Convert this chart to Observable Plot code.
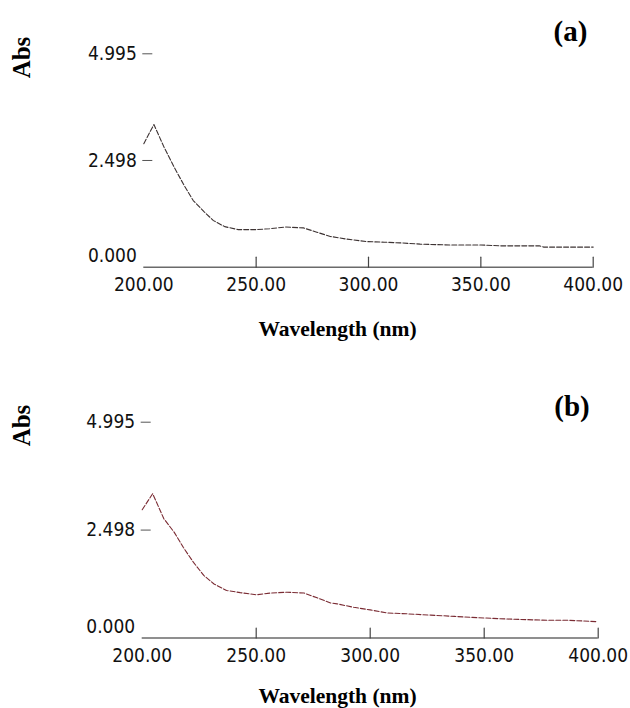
<!DOCTYPE html>
<html><head><meta charset="utf-8">
<script src="https://cdn.jsdelivr.net/npm/d3@7"></script>
<script src="https://cdn.jsdelivr.net/npm/@observablehq/plot@0.6"></script>
<style>body{margin:0;background:#fff} #chart{width:630px;height:708px;position:relative;overflow:hidden} svg{display:block}</style>
</head><body><div id="chart"></div>
<script>
// Panel (a)
const wavelengthA = [200, 204.5, 209, 213.5, 218, 222, 227, 231, 236, 242, 250, 256, 263, 271, 277, 283, 290, 299, 307, 314, 323, 336, 350, 359, 376, 378, 400];
const absA        = [2.89, 3.34, 2.81, 2.34, 1.91, 1.56, 1.29, 1.09, 0.95, 0.88, 0.88, 0.90, 0.94, 0.92, 0.82, 0.72, 0.66, 0.60, 0.585, 0.57, 0.54, 0.52, 0.52, 0.50, 0.50, 0.47, 0.47];
// Panel (b)
const wavelengthB = [200, 204.6, 209.5, 214, 218, 222.5, 227, 231.5, 237, 243, 250, 256, 263.5, 271, 276.7, 282.6, 285.5, 292.8, 300, 307.5, 316, 326.5, 337, 347, 360, 377.5, 387, 399];
const absB        = [2.97, 3.34, 2.76, 2.45, 2.10, 1.75, 1.45, 1.25, 1.10, 1.05, 1.00, 1.04, 1.06, 1.04, 0.93, 0.81, 0.79, 0.71, 0.65, 0.58, 0.56, 0.53, 0.50, 0.47, 0.44, 0.41, 0.41, 0.38];

const xTicks = [200, 250, 300, 350, 400];
const xTickMarks = [250, 300, 350, 400];
const yTicks = [2.498, 4.995];
const yZeroTick = [0];
const xLabel = "Wavelength (nm)";
const yLabel = "Abs";
const panelLabels = ["(a)", "(b)"];
const lineColors = ["#3d3333", "#7a2b33"];

const tickShape = {draw(c, l) { c.moveTo(0, 0); c.lineTo(0, -l); }};
const serif = "'Liberation Serif', 'Times New Roman', serif";

function panel({wl, ab, color, label, ml, mr, mt, mb, absPos, tagPos, xlabPos}) {
  const data = wl.map((w, i) => ({w, a: ab[i]}));
  return Plot.plot({
    width: 630, height: 354,
    marginTop: mt, marginBottom: mb, marginLeft: ml, marginRight: mr,
    style: {fontFamily: "'DejaVu Sans Condensed', 'DejaVu Sans', sans-serif", fontSize: "19px", color: "#111", background: "#fff", overflow: "visible"},
    x: {domain: [200, 400]},
    y: {domain: [0, 4.995]},
    marks: [
      Plot.ruleY([0], {stroke: "#6a6a6a", strokeWidth: 1.4}),
      Plot.vector(xTickMarks, {x: d => d, y: 0, length: 10, anchor: "start", shape: tickShape, stroke: "#444", strokeWidth: 1.2}),
      Plot.axisX(xTicks, {tickSize: 0, tickPadding: 10, tickFormat: d => d.toFixed(2), label: null, fill: "#111"}),
      Plot.axisY(yTicks, {tickSize: 10, dx: 9, tickPadding: 6, tickFormat: d => d.toFixed(3), label: null, stroke: "#555", fill: "#111"}),
      Plot.axisY(yZeroTick, {tickSize: 0, dx: 9, dy: -11, tickPadding: 16, tickFormat: d => d.toFixed(3), label: null, fill: "#111"}),
      Plot.line(data, {x: "w", y: "a", stroke: color, strokeWidth: 1.1, strokeDasharray: "5,2"}),
      Plot.text([yLabel], {frameAnchor: "top-left", dx: absPos[0], dy: absPos[1], rotate: -90, fontFamily: serif, fontWeight: "bold", fontSize: 25, fill: "#000", lineAnchor: "middle", textAnchor: "middle"}),
      Plot.text([label], {frameAnchor: "top-left", dx: tagPos[0], dy: tagPos[1], fontFamily: serif, fontWeight: "bold", fontSize: 29, fill: "#000", lineAnchor: "middle", textAnchor: "middle"}),
      Plot.text([xLabel], {frameAnchor: "bottom-left", dx: xlabPos[0], dy: xlabPos[1], fontFamily: serif, fontWeight: "bold", fontSize: 21.5, fill: "#000", lineAnchor: "middle", textAnchor: "middle"})
    ]
  });
}

const root = document.getElementById("chart");
root.append(panel({
  wl: wavelengthA, ab: absA, color: lineColors[0], label: panelLabels[0],
  ml: 143.3, mr: 37.3, mt: 53.3, mb: 87.3,
  absPos: [21 - 143.3, 57 - 53.3], tagPos: [570 - 143.3, 31 - 53.3], xlabPos: [337 - 143.3, 62.3]
}));
root.append(panel({
  wl: wavelengthB, ab: absB, color: lineColors[1], label: panelLabels[1],
  ml: 141.7, mr: 32.3, mt: 67.7, mb: 70.5,
  absPos: [21 - 141.7, 71 - 67.7], tagPos: [571.5 - 141.7, 51.8 - 67.7], xlabPos: [337 - 141.7, 58.5]
}));
</script></body></html>
